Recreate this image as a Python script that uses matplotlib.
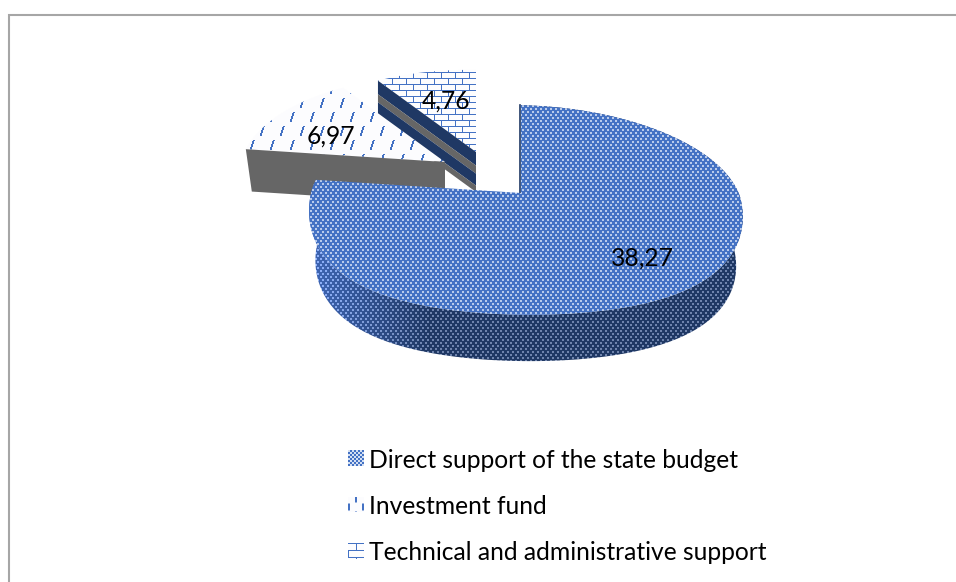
import numpy as np
import matplotlib
matplotlib.use('Agg')
import matplotlib.pyplot as plt
from matplotlib.patches import Polygon, Rectangle

# Sources of funding
labels = ['Direct support of the state budget', 'Investment fund',
          'Technical and administrative support']
values = [38.27, 6.97, 4.76]
value_text = ['38,27', '6,97', '4,76']

W, H = 956, 582
BLUE = '#4472c4'
NAVY = '#1f3864'
GRAY = '#666666'

plt.rcParams['font.family'] = ['Lato', 'DejaVu Sans']

fig = plt.figure(figsize=(W / 100, H / 100), dpi=100)
ax = fig.add_axes([0, 0, 1, 1])
ax.set_xlim(0, W)
ax.set_ylim(H, 0)
ax.axis('off')


def rgb(c):
    return np.array(matplotlib.colors.to_rgb(c))


def dots_tile(bg, dot, w=5, h=6):
    # staggered square dots
    t = np.tile(rgb(bg), (h, w, 1))
    d = rgb(dot)
    t[0:2, 0:2] = d
    t[h // 2:h // 2 + 2, w // 2:w // 2 + 2] = d
    return t


def brick_tile(w=14, h=6):
    t = np.tile(rgb('#fdfdfe'), (2 * h, w, 1))
    c = rgb(BLUE)
    t[0, :] = c
    t[h, :] = c
    t[0:h, w // 2] = c
    t[h:2 * h, 0] = c
    return t


def dash_tile(w=20, h=14, length=10, slant=3):
    # two dashes per tile, the second shifted half a step
    t = np.tile(rgb('#fcfcfe'), (2 * h, w, 1))
    c = rgb(BLUE)
    for i in range(length):
        s = slant * (length - i) // length
        t[i, (w // 2 + s) % w] = c
        t[i, (w // 2 + s + 1) % w] = c
        t[h + i, s % w] = c
        t[h + i, (s + 1) % w] = c
    return t


def fill_texture(patch, tile, zorder, origin=(0, 0), shade=None):
    # repeat the small tile over the canvas and clip it to the patch
    reps = (H // tile.shape[0] + 1, W // tile.shape[1] + 1, 1)
    img = np.tile(tile, reps)[:H, :W]
    img = np.roll(img, (origin[1], origin[0]), axis=(0, 1))
    if shade is not None:
        img = np.clip(img + shade[None, :, None] * np.array([0.55, 0.8, 1.4]), 0, 1)
    im = ax.imshow(img, extent=(0, W, H, 0), interpolation='bilinear',
                   zorder=zorder, aspect='auto')
    patch.set_transform(ax.transData)
    im.set_clip_path(patch)


def project(cx, cy, theta, radius, scale=1.0):
    # tilted disc with some perspective; theta runs clockwise from 12 o'clock
    u, v = np.sin(theta), np.cos(theta)
    f = 1 / (1 + 0.162 * v)
    x = radius * scale * u * f * (1 + 0.023 * u)
    y = -102 * radius / 214 * scale * v * f
    # the near edge sags a little and the right side sits lower
    y = y + scale * radius / 214 * (25 * np.clip(-v, 0, None) * u ** 2 + 3.5 * u)
    return cx + x, cy + y


ends = np.cumsum(values) / np.sum(values) * 2 * np.pi
starts = np.r_[0, ends[:-1]]


def top_polygon(cx, cy, a0, a1, radius):
    t = np.linspace(a0, a1, 200)
    x, y = project(cx, cy, t, radius)
    return np.column_stack([np.r_[cx, x], np.r_[cy, y]])


# main slice: rim first, then the top face
cx, cy, radius = 521, 193, 214
depth = 50
t = np.linspace(starts[0], ends[0], 400)
x1, y1 = project(cx, cy, t, radius)
x2, y2 = project(cx, cy + depth, t, radius, 0.97)
wall = np.column_stack([np.r_[x1, x2[::-1]], np.r_[y1, y2[::-1]]])
wall_patch = Polygon(wall, closed=True, fc='none', ec='none')
ax.add_patch(wall_patch)
# the rim is lit towards the left
shade = 0.22 * np.clip((430 - np.arange(W)) / 115, 0, 1)
fill_texture(wall_patch, dots_tile(NAVY, '#6f84ad'), 6, shade=shade)
top_patch = Polygon(top_polygon(cx, cy, starts[0], ends[0], radius), closed=True,
                    fc='none', ec='none')
ax.add_patch(top_patch)
fill_texture(top_patch, dots_tile(BLUE, '#b9cbec'), 7)
xa, ya = project(cx, cy, starts[0], radius)
ax.plot([cx - 1, xa - 1], [cy, ya], color=NAVY, lw=1.2, zorder=6)

# investment fund slice, pulled out to the upper left
cx1, cy1, r1 = 445, 162, 208
x1, y1 = project(cx1, cy1, starts[1], r1)
x2, y2 = project(cx1, cy1 + 42, starts[1], r1, 0.97)
front = [(x1, y1), (cx1, cy1), (cx1, cy1 + 42), (x2, y2)]
ax.add_patch(Polygon(front, closed=True, fc=GRAY, ec='none', zorder=4))
top_patch1 = Polygon(top_polygon(cx1, cy1, starts[1], ends[1], r1), closed=True,
                     fc='none', ec='none')
ax.add_patch(top_patch1)
fill_texture(top_patch1, dash_tile(), 3)

# technical support slice, with its banded cut face
cx2, cy2, r2 = 476, 152, 200
top_patch2 = Polygon(top_polygon(cx2, cy2, starts[2], ends[2], r2), closed=True,
                     fc='none', ec='none')
ax.add_patch(top_patch2)
fill_texture(top_patch2, brick_tile(), 1)

xe, ye = project(cx2, cy2, starts[2], r2)
d_cut = 40
bands = [(0, 0.34, NAVY), (0.34, 0.54, GRAY), (0.54, 0.84, NAVY), (0.84, 1, GRAY)]
for b0, b1, col in bands:
    ax.add_patch(Polygon([(xe, ye + b0 * d_cut), (cx2, cy2 + b0 * d_cut),
                          (cx2, cy2 + b1 * d_cut), (xe, ye + b1 * d_cut)],
                         closed=True, fc=col, ec='none', zorder=2))

# outer frame, only the left and top sides are visible
ax.plot([9.5, 9.5, W], [H, 15, 15], color='#a6a6a6', lw=1.5, zorder=1,
        solid_joinstyle='miter')

# value labels
label_pos = [(642, 258), (331, 136), (446, 101)]
for s, (lx, ly) in zip(value_text, label_pos):
    ax.text(lx, ly, s, fontsize=17.75, color='black', ha='center', va='center', zorder=10)

# legend
key_tiles = [dots_tile(BLUE, '#d5e0f3', 4, 4),
             dash_tile(14, 8, 7, 0),
             brick_tile(16, 7)]
for i, (name, tile) in enumerate(zip(labels, key_tiles)):
    ly = 458 + 46.5 * i
    ax.text(369, ly + 2, name, fontsize=17.75, color='black', ha='left', va='center')
    key = Rectangle((348, ly - 8), 16, 16, fc='none', ec='none')
    ax.add_patch(key)
    fill_texture(key, tile, 5, origin=(348, int(ly - 8)))

ax.set_xlim(0, W)
ax.set_ylim(H, 0)
fig.savefig('out.png', dpi=100)
